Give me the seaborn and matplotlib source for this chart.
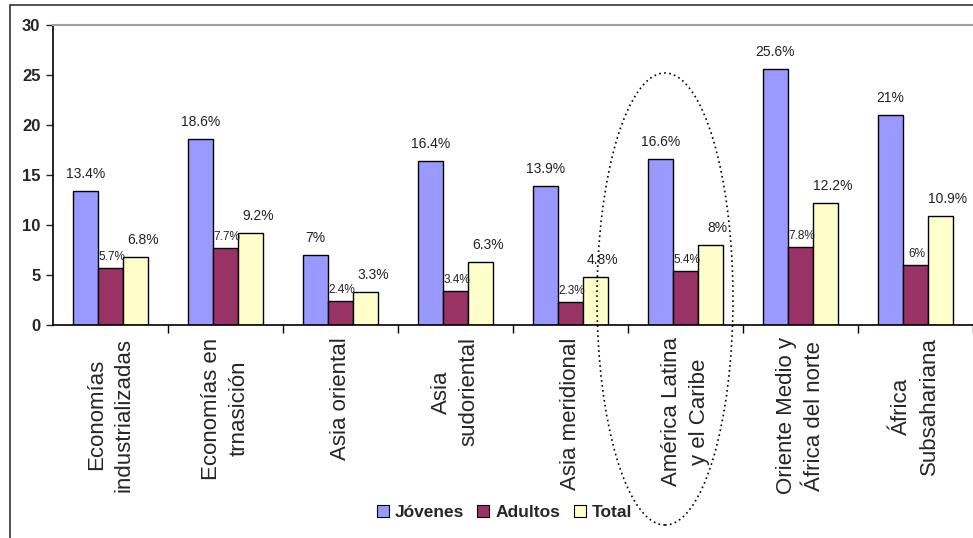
import matplotlib
matplotlib.use("Agg")
import matplotlib.pyplot as plt
import seaborn as sns
import pandas as pd
from matplotlib.patches import Ellipse, Rectangle
from matplotlib.lines import Line2D

categories = ["Economías\nindustrializadas", "Economías en\ntrnasición", "Asia oriental",
              "Asia\nsudoriental", "Asia meridional", "América Latina\ny el Caribe",
              "Oriente Medio y\nÁfrica del norte", "África\nSubsahariana"]
jovenes = [13.4, 18.6, 7, 16.4, 13.9, 16.6, 25.6, 21]
adultos = [5.7, 7.7, 2.4, 3.4, 2.3, 5.4, 7.8, 6]
total = [6.8, 9.2, 3.3, 6.3, 4.8, 8, 12.2, 10.9]
jovenes_lbl = ["13.4%", "18.6%", "7%", "16.4%", "13.9%", "16.6%", "25.6%", "21%"]
adultos_lbl = ["5.7%", "7.7%", "2.4%", "3.4%", "2.3%", "5.4%", "7.8%", "6%"]
total_lbl = ["6.8%", "9.2%", "3.3%", "6.3%", "4.8%", "8%", "12.2%", "10.9%"]
series = ["Jóvenes", "Adultos", "Total"]
colors = ["#9999FF", "#993366", "#FFFFCC"]

sns.set_style("white")
plt.rcParams["font.family"] = ["Liberation Sans", "DejaVu Sans"]

rows = []
for name, vals in zip(series, [jovenes, adultos, total]):
    for c, v in zip(categories, vals):
        rows.append({"cat": c, "serie": name, "val": v})
df = pd.DataFrame(rows)

W, H = 973, 538
fig = plt.figure(figsize=(W / 100, H / 100), dpi=100)
ax = fig.add_axes([53 / W, 1 - 325 / H, (W - 53) / W, 300 / H])

sns.barplot(data=df, x="cat", y="val", hue="serie", order=categories, hue_order=series,
            palette=colors, width=0.66, edgecolor="black", linewidth=1.0, saturation=1,
            legend=False, ax=ax)

ax.set_xlim(-0.5, 7.5)
ax.set_ylim(0, 30)
ax.set_xlabel("")
ax.set_ylabel("")
ax.set_yticks([0, 5, 10, 15, 20, 25, 30])
ax.tick_params(axis="y", length=5, width=1, pad=4, labelsize=12, left=True)
for t in ax.get_yticklabels():
    t.set_fontweight("bold")
ax.set_xticks(range(len(categories)))
ax.set_xticklabels(categories, rotation=90, fontsize=16, linespacing=1.4,
                   ha="center", multialignment="center")
ax.tick_params(axis="x", length=0, pad=9)
ax.set_xticks([i + 0.5 for i in range(len(categories))], minor=True)
ax.tick_params(axis="x", which="minor", length=6, width=1, bottom=True, color="black")

for s in ["left", "bottom"]:
    ax.spines[s].set_color("black")
    ax.spines[s].set_linewidth(1.2)
ax.spines["right"].set_visible(False)
ax.spines["top"].set_color("#A0A0A0")
ax.spines["top"].set_linewidth(1.5)

# value labels
containers = ax.containers
for cont, labels, size, dx, dy in zip(containers, [jovenes_lbl, adultos_lbl, total_lbl],
                                      [10, 8.5, 10], [0, 1, 5], [12, 8, 12]):
    for bar, lab in zip(cont, labels):
        ax.annotate(lab, (bar.get_x() + bar.get_width() / 2, bar.get_height()),
                    xytext=(dx, dy), textcoords="offset points", ha="center", va="center",
                    fontsize=size, color="#222222")

# legend
handles = [Line2D([], [], marker="s", linestyle="none", markersize=8.5,
                  markerfacecolor=c, markeredgecolor="black", markeredgewidth=0.8)
           for c in colors]
leg = fig.legend(handles, series, loc="center", bbox_to_anchor=(504 / W, 1 - 512 / H),
                 ncol=3, frameon=False, handletextpad=0.3, columnspacing=0.7,
                 prop={"weight": "bold", "size": 12.5}, handlelength=0.8)
for t in leg.get_texts():
    t.set_fontstretch("expanded")

# outer frame
fig.patches.append(Rectangle((10 / W, -0.1), 1.2, 1 - 5 / H + 0.1, transform=fig.transFigure,
                             fill=False, edgecolor="#333333", linewidth=1.2))

# dotted ellipse highlighting América Latina
fig.patches.append(Ellipse((665 / W, 1 - 299 / H), 136 / W, 452 / H, transform=fig.transFigure,
                           fill=False, edgecolor="black", linestyle=(0, (1, 2)), linewidth=1.2))

fig.savefig("out.png", dpi=100)
